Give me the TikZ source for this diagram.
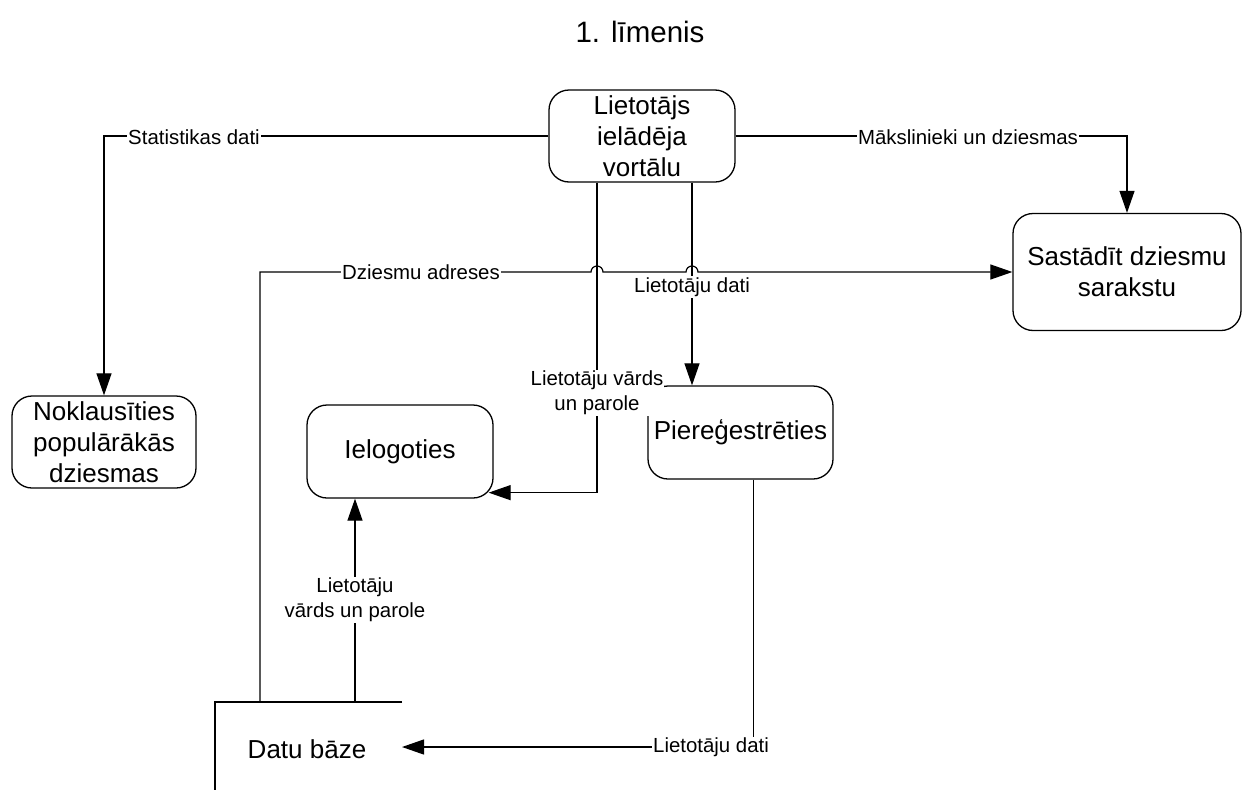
\documentclass[tikz,border=0pt]{standalone}
\usepackage{fontspec}
\setmainfont{Liberation Sans}
\usetikzlibrary{arrows.meta,calc}
\tikzset{
  procbox/.style={draw=black, line width=1.3pt, rounded corners=20pt, align=center,
    font=\fontsize{26}{31}\selectfont, inner sep=0pt},
  lbl/.style={fill=white, inner sep=1pt, align=center, font=\fontsize{20.4}{25}\selectfont},
  conn/.style={draw=black, line width=1.2pt},
  arr/.style={conn, -{Triangle[length=22pt,width=15pt]}},
}
\begin{document}
\begin{tikzpicture}[x=1pt,y=-1pt]
\useasboundingbox (0,0) rectangle (1242,790);
% title
\node[font=\fontsize{29.5}{33}\selectfont] (title) at (640,32) {1. līmenis};
% process boxes
\node[procbox, minimum width=186pt, minimum height=92pt] (lv) at (642,136) {Lietotājs\\ielādēja\\vortālu};
\node[procbox, minimum width=228pt, minimum height=117pt] (sas) at (1127,272) {Sastādīt dziesmu\\sarakstu};
\node[procbox, minimum width=184pt, minimum height=92pt] (nok) at (104,442) {Noklausīties\\populārākās\\dziesmas};
\node[procbox, minimum width=186pt, minimum height=93pt] (ielo) at (400,451.5) {Ielogoties};
\node[procbox, minimum width=185pt, minimum height=93pt] (pier) at (740.5,432.5) {Piereģestrēties};
% data store
\draw[conn] (402,702) -- (215,702) -- (215,790);
\node[font=\fontsize{26}{31}\selectfont] (db) at (307,749) {Datu bāze};
\coordinate (db1) at (260,702);
\coordinate (db2) at (355,702);
\coordinate (dbin) at (402,747);
% connectors
\draw[arr] (lv.west) -| (nok.north);
\draw[arr] (lv.east) -| (sas.north);
\draw[arr] ([xshift=-45pt]lv.south) |- ([xshift=-5pt,yshift=6pt]ielo.south east);
\draw[arr] ([xshift=50pt]lv.south) -- ([xshift=50pt]lv.south |- pier.north);
\draw[arr] (db2) -- (db2 |- ielo.south);
\draw[arr] ([xshift=13pt]pier.south) |- (dbin);
\draw[arr] (db1) -- (db1 |- sas.west) -- (591,272)
  arc[start angle=180, end angle=0, radius=6pt] -- (686,272)
  arc[start angle=180, end angle=0, radius=6pt] -- (sas.west);
% labels
\node[lbl] (l1) at (194,137) {Statistikas dati};
\node[lbl] (l2) at (968,137) {Mākslinieki un dziesmas};
\node[lbl] (l3) at (421,272) {Dziesmu adreses};
\node[lbl] (l4) at (692,287) {Lietotāju dati};
\node[lbl] (l5) at (597,393) {Lietotāju vārds\\un parole};
\node[lbl] (l6) at (355,600) {Lietotāju\\vārds un parole};
\node[lbl] (l7) at (711,747) {Lietotāju dati};
\end{tikzpicture}
\end{document}
